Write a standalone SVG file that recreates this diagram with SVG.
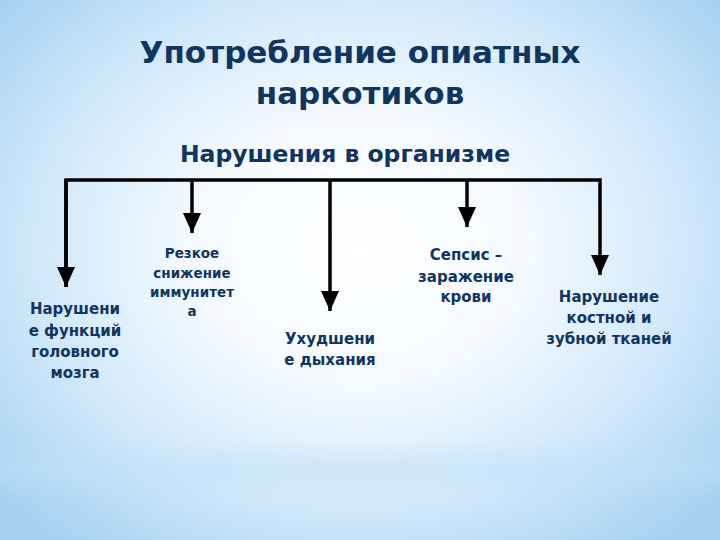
<svg xmlns="http://www.w3.org/2000/svg" width="720" height="540" viewBox="0 0 720 540">
<defs>
<radialGradient id="bg" cx="360" cy="250" r="470" gradientUnits="userSpaceOnUse" gradientTransform="translate(360 250) scale(1 0.8) translate(-360 -250)">
<stop offset="0" stop-color="#ffffff"/>
<stop offset="0.35" stop-color="#f4faff"/>
<stop offset="0.7" stop-color="#cfe7fa"/>
<stop offset="1" stop-color="#a6d1f2"/>
</radialGradient>
<linearGradient id="band" x1="0" y1="0" x2="0" y2="1">
<stop offset="0" stop-color="#bfe0f8" stop-opacity="0"/>
<stop offset="0.5" stop-color="#bfe0f8" stop-opacity="0.5"/>
<stop offset="1" stop-color="#bfe0f8" stop-opacity="0"/>
</linearGradient>
<marker id="arr" markerUnits="userSpaceOnUse" markerWidth="22" markerHeight="20" viewBox="0 0 22 20" refX="21" refY="10" orient="auto">
<path d="M1,1 L21,10 L1,19 Z" fill="#000"/>
</marker>
<style>
.t{font-family:"DejaVu Sans","Liberation Sans",Arial,sans-serif;font-weight:bold;fill:#11355f;text-anchor:middle}
.h1{font-size:31px}
.h2{font-size:23.5px}
.n{font-size:15px}
.s{font-size:13.5px}
.c{stroke:#000;stroke-width:3.5;fill:none}
</style>
</defs>
<rect width="720" height="540" fill="url(#bg)"/>
<rect x="0" y="440" width="720" height="60" fill="url(#band)"/>
<g id="title">
<text class="t h1" x="360" y="63">Употребление опиатных</text>
<text class="t h1" x="360" y="104">наркотиков</text>
</g>
<g id="subtitle">
<text class="t h2" x="345" y="162">Нарушения в организме</text>
</g>
<g id="connectors">
<path class="c" d="M66,287 V180 H600 V275" marker-end="url(#arr)"/>
<path class="c" d="M66,180 V287" marker-end="url(#arr)"/>
<path class="c" d="M192,180 V233" marker-end="url(#arr)"/>
<path class="c" d="M330,180 V311" marker-end="url(#arr)"/>
<path class="c" d="M467,180 V227" marker-end="url(#arr)"/>
</g>
<g id="node1">
<text class="t n" x="75" y="314">Нарушени</text>
<text class="t n" x="75" y="336">е функций</text>
<text class="t n" x="75" y="357">головного</text>
<text class="t n" x="75" y="378">мозга</text>
</g>
<g id="node2">
<text class="t s" x="192" y="258">Резкое</text>
<text class="t s" x="192" y="278">снижение</text>
<text class="t s" x="192" y="297">иммунитет</text>
<text class="t s" x="192" y="316">а</text>
</g>
<g id="node3">
<text class="t n" x="330" y="344">Ухудшени</text>
<text class="t n" x="330" y="365">е дыхания</text>
</g>
<g id="node4">
<text class="t n" x="466" y="260">Сепсис –</text>
<text class="t n" x="466" y="282">заражение</text>
<text class="t n" x="466" y="302">крови</text>
</g>
<g id="node5">
<text class="t n" x="609" y="302">Нарушение</text>
<text class="t n" x="609" y="323">костной и</text>
<text class="t n" x="609" y="344">зубной тканей</text>
</g>
</svg>
